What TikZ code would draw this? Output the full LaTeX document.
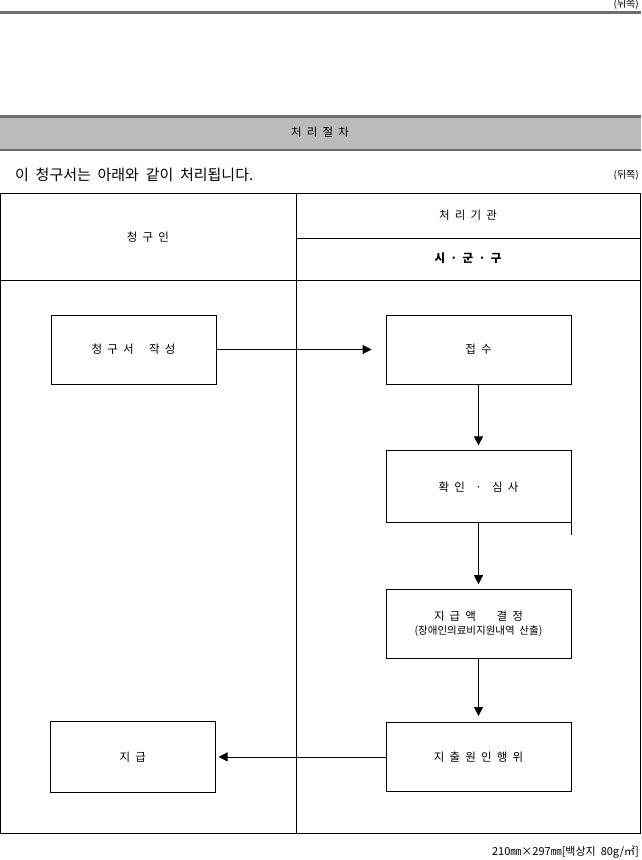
\documentclass[tikz,border=0pt]{standalone}
\usepackage{fontspec}
\setmainfont{Noto Sans CJK KR}[WordSpace=2]
\usepackage{xcolor}
\usetikzlibrary{arrows.meta,positioning}

\definecolor{bandgray}{RGB}{187,187,187}
\definecolor{rulegray}{RGB}{110,110,110}

\begin{document}
\begin{tikzpicture}[
    x=1pt, y=-1pt,
    node distance=66pt,
    stepbox/.style={draw, line width=0.8pt, minimum width=185pt, minimum height=69pt, inner sep=0pt, align=center, font=\fontsize{11.5}{15}\selectfont},
    sidebox/.style={stepbox, minimum width=165pt},
    head/.style={font=\fontsize{11.5}{14}\selectfont, inner sep=0pt},
    note/.style={font=\fontsize{10}{12}\selectfont, inner sep=0pt},
    arrow/.style={-{Triangle[length=9pt, width=9pt]}, line width=0.8pt}
]
\useasboundingbox (0,0) rectangle (641,860);

% page header
\node[note, anchor=east] (pagetop) at (639,4) {(뒤쪽)};
\draw[rulegray, line width=3pt] (0,12) -- (641,12);

% title band
\fill[bandgray] (0,117) rectangle (641,150);
\draw[rulegray, line width=3pt] (0,116) -- (641,116);
\draw[rulegray, line width=1.2pt] (0,150) -- (641,150);
\node[head] (title) at (320,132) {처 리 절 차};

\node[anchor=west, inner sep=0pt, font=\fontsize{15}{18}\selectfont] (intro) at (15,175) {이 청구서는 아래와 같이 처리됩니다.};
\node[note, anchor=east] (pageside) at (639,175) {(뒤쪽)};

% table
\draw[line width=0.8pt] (0.5,193) rectangle (640,833);
\draw[line width=0.8pt] (296,193) -- (296,833);
\draw[line width=0.8pt] (0.5,280) -- (640,280);
\draw[line width=0.8pt] (296,238) -- (640,238);

\node[head] (claimant) at (148,237) {청 구 인};
\node[head] (agency) at (468,215) {처 리 기 관};
\node[head, font=\fontsize{11.5}{14}\selectfont\bfseries] (sigungu) at (468,258) {시 · 군 · 구};

% steps
\node[sidebox] (write) at (133.5,349.5) {청 구 서 \ \ 작 성};
\node[stepbox] (receive) at (478.5,349.5) {접 수};
\node[stepbox, below=of receive, minimum height=72pt] (review) {확 인 \ · \ 심 사};
\node[stepbox, below=of review] (decide) {지 급 액 \ \ \ 결 정\\[-1pt]{\fontsize{10.5}{12}\selectfont (장애인의료비지원내역 산출)}};
\node[stepbox, below=63pt of decide] (spend) {지 출 원 인 행 위};
\node[sidebox, left=170pt of spend, minimum height=71pt] (pay) {지 급};

\draw[arrow, shorten >=14pt] (write) -- (receive);
\draw[arrow, shorten >=5pt] (receive) -- (review);
\draw[arrow, shorten >=5pt] (review) -- (decide);
\draw[arrow, shorten >=6pt] (decide) -- (spend);
\draw[arrow, shorten >=3pt] (spend) -- (pay);
\draw[line width=0.8pt] (review.south east) -- ++(0,12);

% paper size
\node[note, anchor=east, font=\fontsize{11}{13}\selectfont] (paper) at (639,852) {210㎜×297㎜[백상지 80g/㎡]};
\end{tikzpicture}
\end{document}
